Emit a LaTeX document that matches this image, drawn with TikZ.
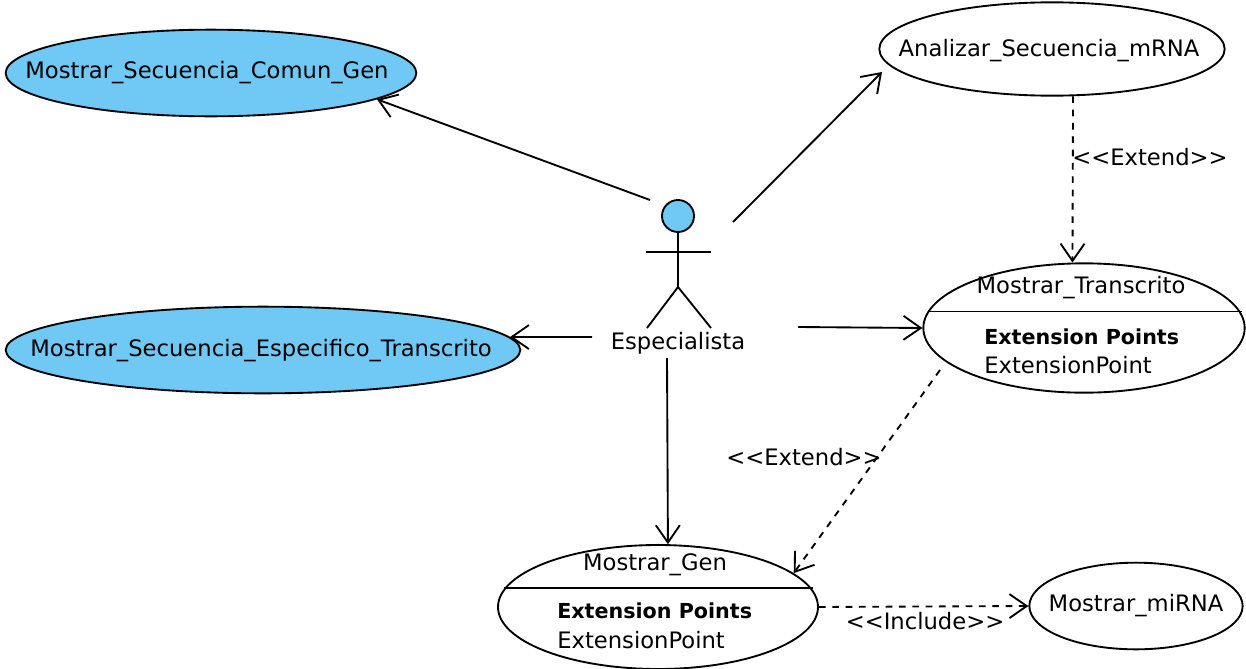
\documentclass[tikz,border=0pt]{standalone}
\usepackage{fontspec}
\setmainfont{DejaVu Sans}
\usetikzlibrary{positioning,arrows.meta,shapes.geometric}
\definecolor{usecaseblue}{RGB}{112,200,245}

\begin{document}
\begin{tikzpicture}[
        x=0.75pt,y=-0.75pt,
        every node/.style={font=\fontsize{17}{20}\selectfont},
        boldtext/.style={anchor=west,inner sep=0pt,font=\fontsize{15.5}{18}\selectfont\bfseries},
        plaintext/.style={anchor=west,inner sep=0pt},
        usecase/.style={draw,ellipse,line width=1.4pt,inner sep=0pt},
        stick/.style={line width=1.4pt},
        assoc/.style={line width=1.4pt,-{Straight Barb[length=13pt,width=18pt,line width=1.4pt]}},
        depend/.style={assoc,dash pattern=on 5pt off 5pt}
    ]
    \useasboundingbox (0,0) rectangle (1246,668);

    % use cases
    \node[usecase,fill=usecaseblue,minimum width=308pt,minimum height=65pt] (comun) at (211,73) {};
    \node[usecase,fill=usecaseblue,minimum width=386pt,minimum height=65pt] (especifico) at (263,350) {};
    \node[usecase,minimum width=259pt,minimum height=70pt] (analizar) at (1052,49) {};
    \node[usecase,minimum width=241pt,minimum height=97pt] (transcrito) at (1084,328) {};
    \node[usecase,minimum width=240pt,minimum height=93pt] (gen) at (658,607) {};
    \node[usecase,minimum width=160pt,minimum height=65pt] (mirna) at (1136,606) {};

    \node (comunText) at (207,73) {Mostrar\_Secuencia\_Comun\_Gen};
    \node (especificoText) at (261,351) {Mostrar\_Secuencia\_Especifico\_Transcrito};
    \node (analizarText) at (1049,51) {Analizar\_Secuencia\_mRNA};
    \node (mirnaText) at (1136,606) {Mostrar\_miRNA};

    % compartments
    \draw[stick] (transcrito.174.1) -- (transcrito.174.1 -| transcrito.5.9);
    \draw[stick] (gen.173.3) -- (gen.173.3 -| gen.6.7);
    \node (transcritoText) at (1081,288) {Mostrar\_Transcrito};
    \node[boldtext] (transcritoPoints) at (984,337) {Extension Points};
    \node[plaintext] (transcritoPoint) at (984,365) {ExtensionPoint};
    \node (genText) at (655,565) {Mostrar\_Gen};
    \node[boldtext] (genPoints) at (557,611) {Extension Points};
    \node[plaintext] (genPoint) at (557,640) {ExtensionPoint};

    % actor
    \node[draw,circle,fill=usecaseblue,line width=1.4pt,minimum size=24pt,inner sep=0pt] (head) at (678,216) {};
    \coordinate (hip) at (678,287);
    \coordinate (armL) at (646,252);
    \coordinate (armR) at (711,252);
    \coordinate (legL) at (647,328);
    \coordinate (legR) at (711,328);
    \draw[stick] (head.south) -- (hip);
    \draw[stick] (armL) -- (armR);
    \draw[stick] (legL) -- (hip) -- (legR);
    \node (actor) at (678,343) {Especialista};

    % free ends beside the actor
    \coordinate (fromComun) at (650,200);
    \coordinate (fromAnalizar) at (733,222);
    \coordinate (toAnalizar) at (882,72);
    \coordinate (fromEspecifico) at (592,337);
    \coordinate (fromTranscrito) at (798,327);
    \coordinate (fromGen) at (667,358);
    \coordinate (tailGen) at (940,370);

    \draw[assoc] (fromComun) -- (comun.-9.5);
    \draw[assoc] (fromAnalizar) -- (toAnalizar);
    \draw[assoc] (fromEspecifico) -- (especifico.3);
    \draw[assoc] (fromTranscrito) -- (transcrito.180);
    \draw[assoc] (fromGen) -- (gen.81.7);

    \draw[depend] (analizar.-66.5) -- (transcrito.100.6);
    \draw[depend] (tailGen) -- (gen.14);
    \draw[depend] (gen.0) -- (mirna.180);

    \node (extendA) at (1150,157) {<{}<Extend>{}>};
    \node (extendB) at (804,457) {<{}<Extend>{}>};
    \node (include) at (925,621) {<{}<Include>{}>};
\end{tikzpicture}
\end{document}
